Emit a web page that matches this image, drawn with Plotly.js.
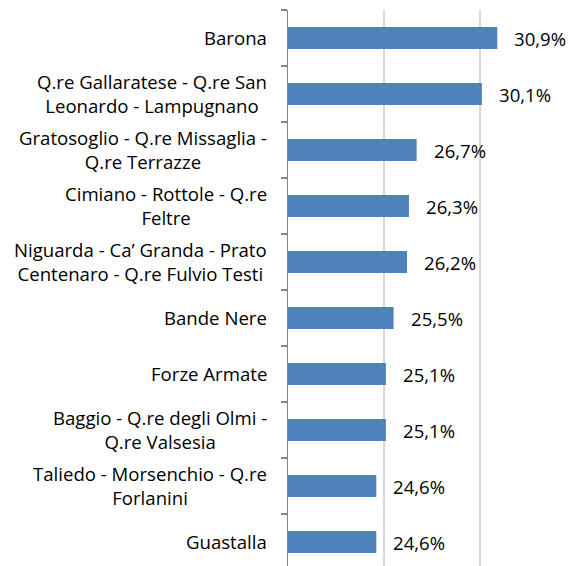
<!DOCTYPE html>
<html>
<head>
<meta charset="utf-8">
<script src="https://cdn.plot.ly/plotly-3.0.1.min.js"></script>
<style>html,body{margin:0;padding:0;background:#fff;}#chart{width:570px;height:566px;}</style>
</head>
<body>
<div id="chart"></div>
<script>
const categories = [
  "Barona",
  "Q.re Gallaratese - Q.re San<br>Leonardo - Lampugnano",
  "Gratosoglio - Q.re Missaglia -<br>Q.re Terrazze",
  "Cimiano - Rottole - Q.re<br>Feltre",
  "Niguarda - Ca’ Granda - Prato<br>Centenaro - Q.re Fulvio Testi",
  "Bande Nere",
  "Forze Armate",
  "Baggio - Q.re degli Olmi -<br>Q.re Valsesia",
  "Taliedo - Morsenchio - Q.re<br>Forlanini",
  "Guastalla"
];
const values = [30.9, 30.1, 26.7, 26.3, 26.2, 25.5, 25.1, 25.1, 24.6, 24.6];
const ids = categories.map((c, i) => "c" + i);

const fontFamily = "'Open Sans', sans-serif";
const fontSize = 18.6;

const trace = {
  type: "bar",
  orientation: "h",
  x: values,
  y: ids,
  marker: { color: "#4f81bd", line: { width: 0 } },
  hoverinfo: "skip"
};

const annotations = [];
categories.forEach((c, i) => {
  annotations.push({
    xref: "paper", yref: "y", x: 0, y: ids[i],
    text: c, showarrow: false, xanchor: "right", yanchor: "middle",
    align: "center", xshift: -19, yshift: 1,
    font: { family: fontFamily, size: fontSize, color: "#000" }
  });
  annotations.push({
    xref: "x", yref: "y", x: values[i], y: ids[i],
    text: values[i].toFixed(1).replace(".", ",") + "%",
    showarrow: false, xanchor: "left", yanchor: "middle", xshift: 15, yshift: 0,
    font: { family: fontFamily, size: fontSize, color: "#000" }
  });
});

const layout = {
  width: 570, height: 566,
  margin: { l: 288, r: 0, t: 10, b: 0, pad: 0 },
  paper_bgcolor: "#fff", plot_bgcolor: "#fff",
  showlegend: false,
  bargap: 0.61,
  xaxis: {
    range: [20, 34.6875], tick0: 0, dtick: 5,
    showgrid: true, gridcolor: "#d9d9d9", gridwidth: 1.5,
    showticklabels: false, showline: false, zeroline: false, ticks: ""
  },
  yaxis: {
    type: "category",
    range: [9.4286, -0.5],
    showticklabels: false,
    showline: true, linecolor: "#868686", linewidth: 1.5,
    ticks: "outside", tickson: "boundaries", ticklen: 6, tickcolor: "#868686", tickwidth: 1.5,
    showgrid: false, zeroline: false
  },
  annotations: annotations
};

Plotly.newPlot("chart", [trace], layout, { staticPlot: true, displayModeBar: false });
</script>
</body>
</html>
